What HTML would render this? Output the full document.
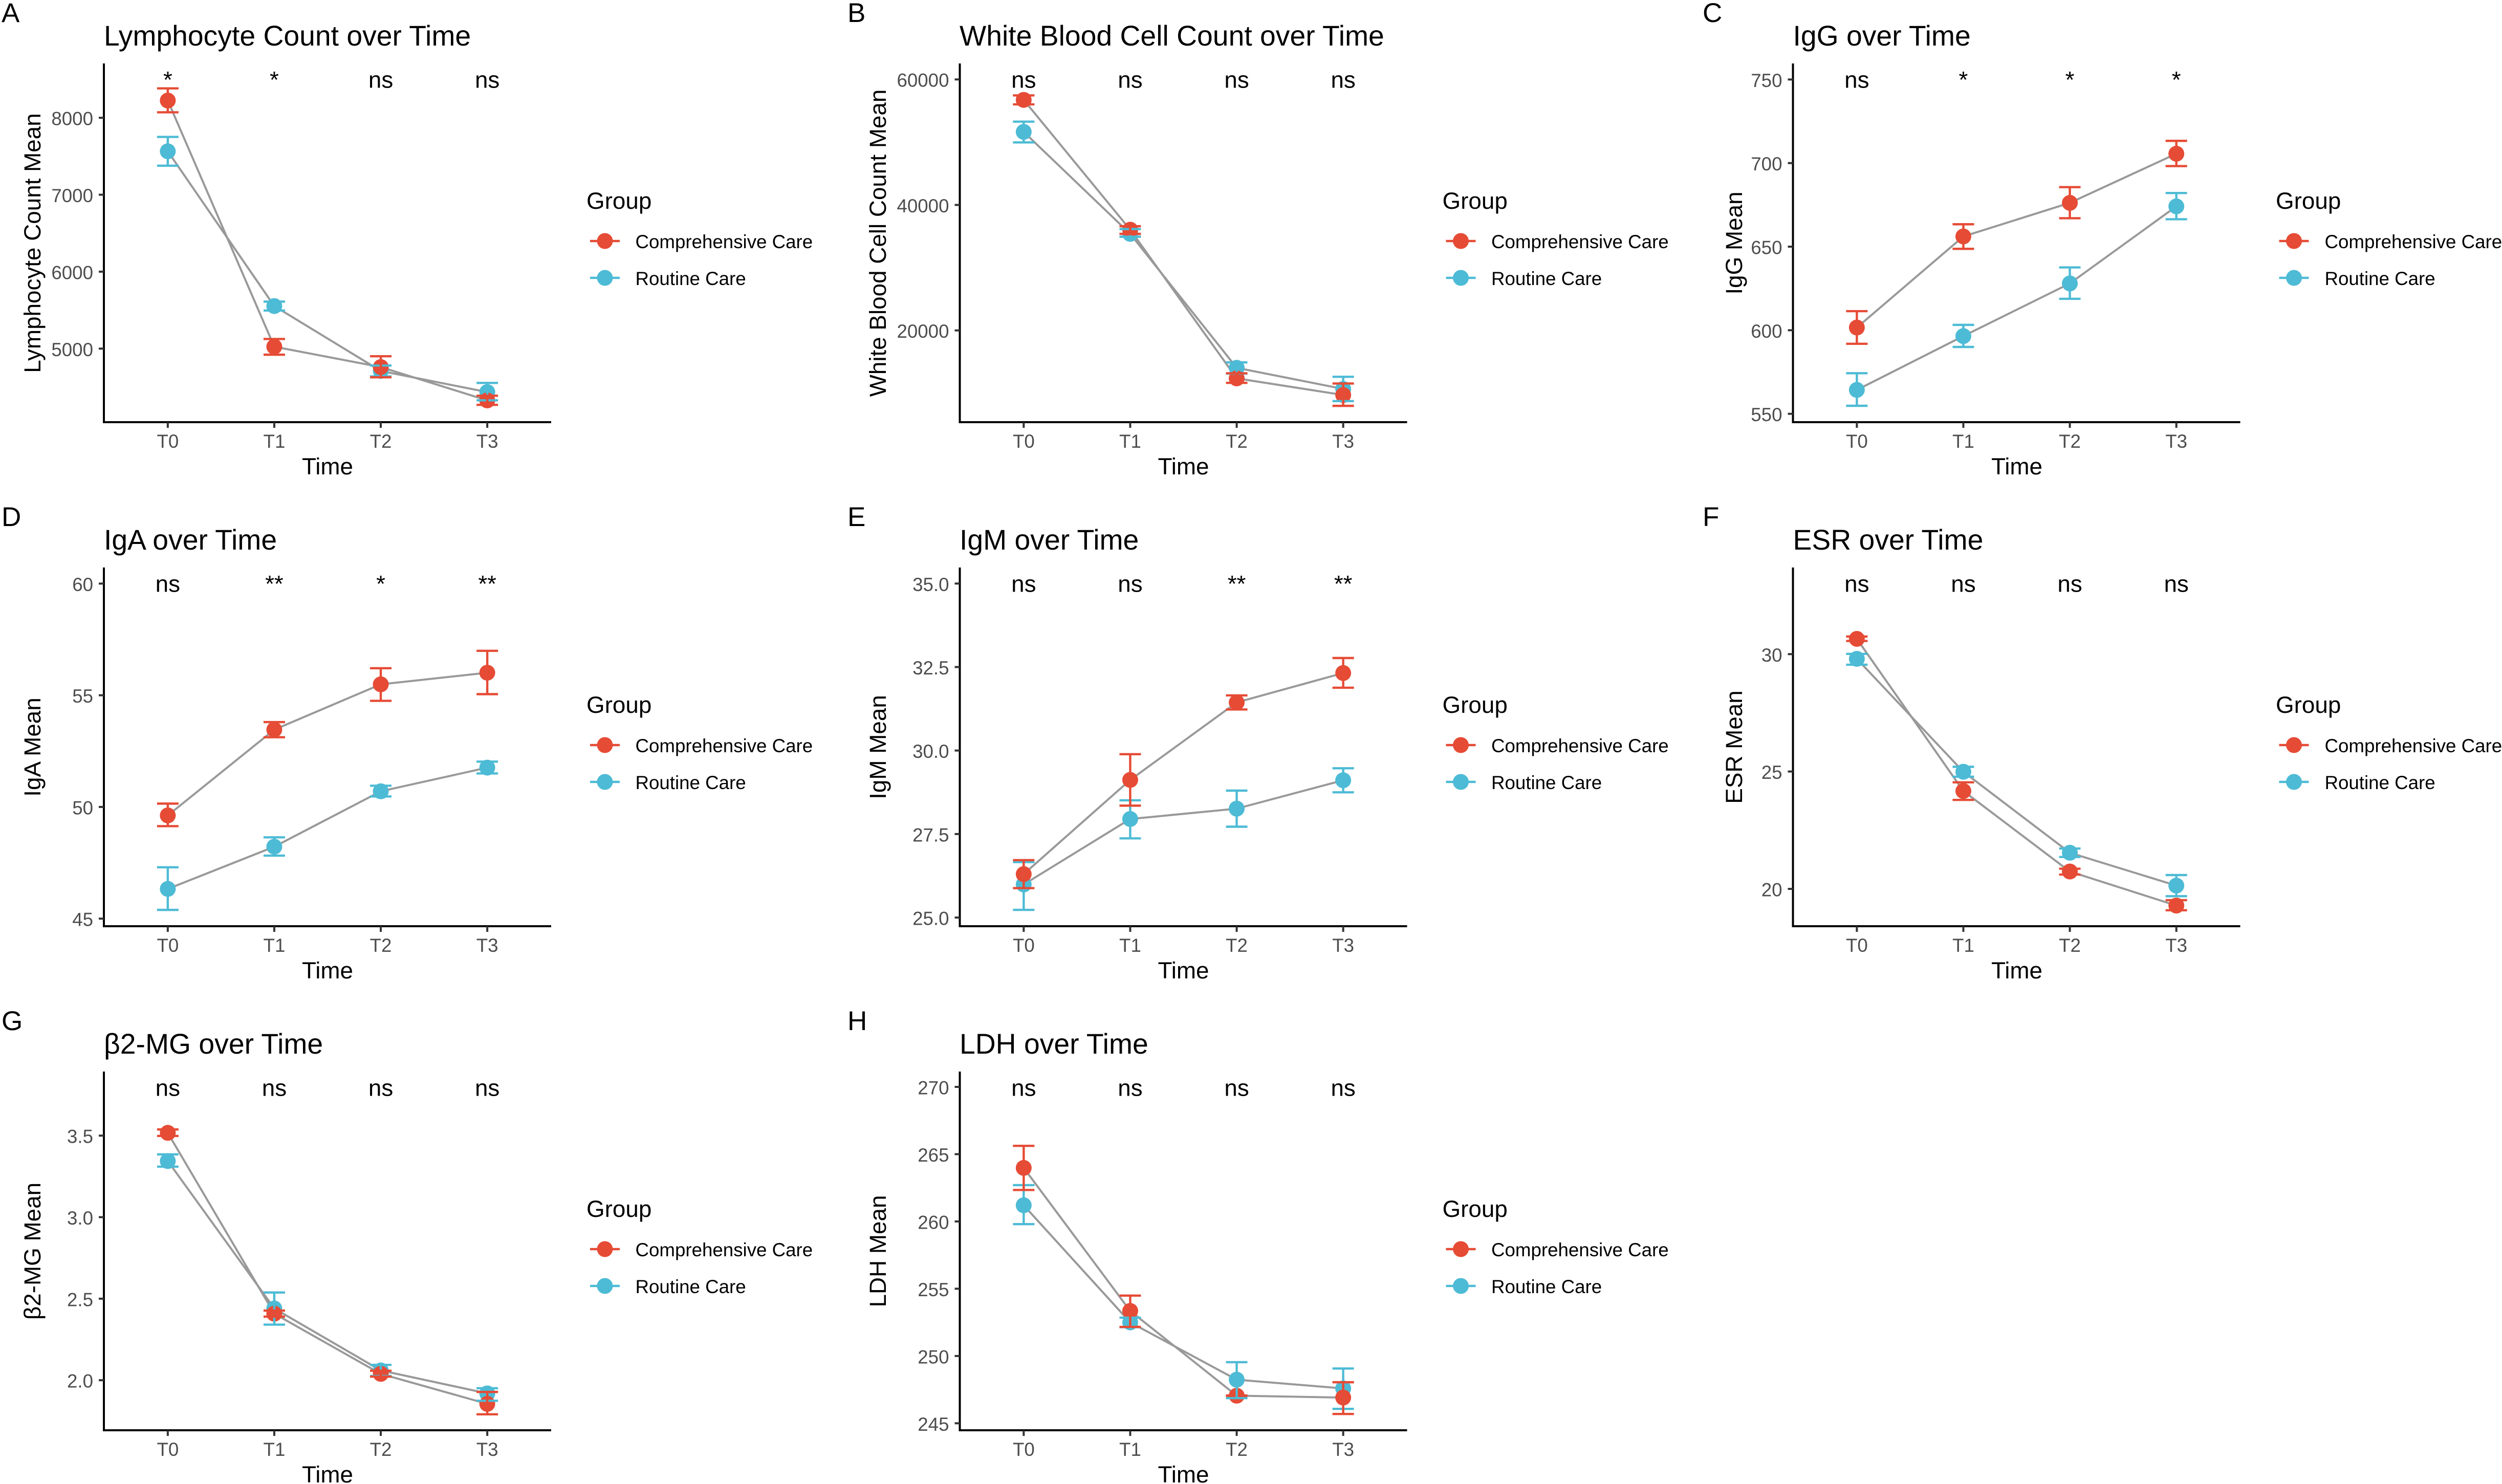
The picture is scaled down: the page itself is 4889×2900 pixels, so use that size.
<!DOCTYPE html>
<html lang="en">
<head>
<meta charset="utf-8">
<title>Laboratory markers over time</title>
<style>
html,body{margin:0;padding:0;background:#fff;}
svg{display:block;}
text{font-family:"Liberation Sans",Arial,sans-serif;fill:#000;}
.letter{font-size:53px;}
.title{font-size:55.3px;}
.axis-title{font-size:45.8px;text-anchor:middle;}
.legend-title{font-size:45.8px;}
.legend-label{font-size:36.7px;}
.tick-label{font-size:36.7px;fill:#4d4d4d;}
.sig-label{font-size:45.8px;text-anchor:middle;}
</style>
</head>
<body>
<svg id="figure" xmlns="http://www.w3.org/2000/svg" width="4889" height="2900" viewBox="0 0 4889 2900">
<rect width="4889" height="2900" fill="#ffffff"/>

<g id="panel-a">
<text class="letter" x="3" y="43">A</text>
<text class="title" x="203" y="89">Lymphocyte Count over Time</text>
<text class="axis-title" transform="translate(79,475) rotate(-90)">Lymphocyte Count Mean</text>
<text class="axis-title" x="640" y="927">Time</text>
<text class="legend-title" x="1146" y="408">Group</text>
<text class="legend-label" x="1241.5" y="485">Comprehensive Care</text>
<text class="legend-label" x="1241.5" y="557">Routine Care</text>
</g>

<g id="panel-b">
<text class="letter" x="1656" y="43">B</text>
<text class="title" x="1875" y="89">White Blood Cell Count over Time</text>
<text class="axis-title" transform="translate(1731,475) rotate(-90)">White Blood Cell Count Mean</text>
<text class="axis-title" x="2312.5" y="927">Time</text>
<text class="legend-title" x="2818.5" y="408">Group</text>
<text class="legend-label" x="2914" y="485">Comprehensive Care</text>
<text class="legend-label" x="2914" y="557">Routine Care</text>
</g>

<g id="panel-c">
<text class="letter" x="3327" y="43">C</text>
<text class="title" x="3503.5" y="89">IgG over Time</text>
<text class="axis-title" transform="translate(3404,475) rotate(-90)">IgG Mean</text>
<text class="axis-title" x="3941" y="927">Time</text>
<text class="legend-title" x="4447" y="408">Group</text>
<text class="legend-label" x="4542.5" y="485">Comprehensive Care</text>
<text class="legend-label" x="4542.5" y="557">Routine Care</text>
</g>

<g id="panel-d">
<text class="letter" x="3" y="1028">D</text>
<text class="title" x="203" y="1074">IgA over Time</text>
<text class="axis-title" transform="translate(79,1460) rotate(-90)">IgA Mean</text>
<text class="axis-title" x="640" y="1912">Time</text>
<text class="legend-title" x="1146" y="1393">Group</text>
<text class="legend-label" x="1241.5" y="1470">Comprehensive Care</text>
<text class="legend-label" x="1241.5" y="1542">Routine Care</text>
</g>

<g id="panel-e">
<text class="letter" x="1656" y="1028">E</text>
<text class="title" x="1875" y="1074">IgM over Time</text>
<text class="axis-title" transform="translate(1731,1460) rotate(-90)">IgM Mean</text>
<text class="axis-title" x="2312.5" y="1912">Time</text>
<text class="legend-title" x="2818.5" y="1393">Group</text>
<text class="legend-label" x="2914" y="1470">Comprehensive Care</text>
<text class="legend-label" x="2914" y="1542">Routine Care</text>
</g>

<g id="panel-f">
<text class="letter" x="3327" y="1028">F</text>
<text class="title" x="3503.5" y="1074">ESR over Time</text>
<text class="axis-title" transform="translate(3404,1460) rotate(-90)">ESR Mean</text>
<text class="axis-title" x="3941" y="1912">Time</text>
<text class="legend-title" x="4447" y="1393">Group</text>
<text class="legend-label" x="4542.5" y="1470">Comprehensive Care</text>
<text class="legend-label" x="4542.5" y="1542">Routine Care</text>
</g>

<g id="panel-g">
<text class="letter" x="3" y="2013">G</text>
<text class="title" x="203" y="2059">β2-MG over Time</text>
<text class="axis-title" transform="translate(79,2445) rotate(-90)">β2-MG Mean</text>
<text class="axis-title" x="640" y="2897">Time</text>
<text class="legend-title" x="1146" y="2378">Group</text>
<text class="legend-label" x="1241.5" y="2455">Comprehensive Care</text>
<text class="legend-label" x="1241.5" y="2527">Routine Care</text>
</g>

<g id="panel-h">
<text class="letter" x="1656" y="2013">H</text>
<text class="title" x="1875" y="2059">LDH over Time</text>
<text class="axis-title" transform="translate(1731,2445) rotate(-90)">LDH Mean</text>
<text class="axis-title" x="2312.5" y="2897">Time</text>
<text class="legend-title" x="2818.5" y="2378">Group</text>
<text class="legend-label" x="2914" y="2455">Comprehensive Care</text>
<text class="legend-label" x="2914" y="2527">Routine Care</text>
</g>
</svg>

<script>
const timeLabels = ['T0', 'T1', 'T2', 'T3'];

// A: Lymphocyte count
const lymphTicks = ['5000', '6000', '7000', '8000'];
const lymphSig = ['*', '*', 'ns', 'ns'];
const lymphCompMean = [8224, 5025, 4760, 4327];
const lymphCompLow = [8071, 4921, 4627, 4269];
const lymphCompHigh = [8382, 5125, 4901, 4388];
const lymphRoutMean = [7564, 5553, 4710, 4435];
const lymphRoutLow = [7377, 5495, 4639, 4328];
const lymphRoutHigh = [7751, 5611, 4780, 4554];

// B: White blood cell count
const wbcTicks = ['20000', '40000', '60000'];
const wbcSig = ['ns', 'ns', 'ns', 'ns'];
const wbcCompMean = [56739, 36051, 12357, 9707];
const wbcCompLow = [56025, 35389, 11643, 7975];
const wbcCompHigh = [57452, 36611, 13172, 11541];
const wbcRoutMean = [51643, 35389, 14038, 10675];
const wbcRoutLow = [49962, 34930, 13121, 8739];
const wbcRoutHigh = [53274, 36153, 14904, 12611];

// C: IgG
const iggTicks = ['550', '600', '650', '700', '750'];
const iggSig = ['ns', '*', '*', '*'];
const iggCompMean = [601.6, 656.1, 676.2, 705.6];
const iggCompLow = [591.9, 648.7, 667, 698.2];
const iggCompHigh = [611.4, 663.4, 685.6, 713.3];
const iggRoutMean = [564.3, 596.5, 628, 674.1];
const iggRoutLow = [554.8, 590, 618.8, 666.4];
const iggRoutHigh = [574.3, 603.2, 637.6, 682.1];

// D: IgA
const igaTicks = ['45', '50', '55', '60'];
const igaSig = ['ns', '**', '*', '**'];
const igaCompMean = [49.62, 53.46, 55.49, 56.01];
const igaCompLow = [49.14, 53.12, 54.75, 55.05];
const igaCompHigh = [50.15, 53.8, 56.21, 56.99];
const igaRoutMean = [46.33, 48.22, 50.7, 51.76];
const igaRoutLow = [45.39, 47.82, 50.47, 51.5];
const igaRoutHigh = [47.3, 48.64, 50.95, 52.03];

// E: IgM
const igmTicks = ['25.0', '27.5', '30.0', '32.5', '35.0'];
const igmSig = ['ns', 'ns', '**', '**'];
const igmCompMean = [26.3, 29.12, 31.44, 32.32];
const igmCompLow = [25.88, 28.35, 31.23, 31.88];
const igmCompHigh = [26.72, 29.89, 31.65, 32.77];
const igmRoutMean = [25.99, 27.95, 28.26, 29.11];
const igmRoutLow = [25.23, 27.37, 27.72, 28.75];
const igmRoutHigh = [26.66, 28.51, 28.8, 29.47];

// F: ESR
const esrTicks = ['20', '25', '30'];
const esrSig = ['ns', 'ns', 'ns', 'ns'];
const esrCompMean = [30.65, 24.17, 20.74, 19.29];
const esrCompLow = [30.56, 23.79, 20.61, 19.09];
const esrCompHigh = [30.75, 24.54, 20.86, 19.52];
const esrRoutMean = [29.8, 24.99, 21.54, 20.14];
const esrRoutLow = [29.55, 24.78, 21.36, 19.69];
const esrRoutHigh = [30.01, 25.2, 21.72, 20.59];

// G: beta2-MG
const b2mgTicks = ['2.0', '2.5', '3.0', '3.5'];
const b2mgSig = ['ns', 'ns', 'ns', 'ns'];
const b2mgCompMean = [3.517, 2.408, 2.039, 1.855];
const b2mgCompLow = [3.498, 2.39, 2.022, 1.791];
const b2mgCompHigh = [3.538, 2.427, 2.058, 1.928];
const b2mgRoutMean = [3.344, 2.44, 2.06, 1.919];
const b2mgRoutLow = [3.31, 2.341, 2.026, 1.874];
const b2mgRoutHigh = [3.385, 2.538, 2.094, 1.951];

// H: LDH
const ldhTicks = ['245', '250', '255', '260', '265', '270'];
const ldhSig = ['ns', 'ns', 'ns', 'ns'];
const ldhCompMean = [263.98, 253.35, 247.05, 246.91];
const ldhCompLow = [262.34, 252.16, 246.9, 245.69];
const ldhCompHigh = [265.62, 254.49, 247.07, 248.05];
const ldhRoutMean = [261.2, 252.5, 248.24, 247.59];
const ldhRoutLow = [259.8, 252.14, 246.87, 246.07];
const ldhRoutHigh = [262.7, 252.85, 249.54, 249.07];

const RED = '#E64B35';
const BLUE = '#4DBBD5';
const GREY = '#999999';
const NS = 'http://www.w3.org/2000/svg';
const columns = [0, 1672.5, 3300.5];
const rows = [0, 985, 1970];

const panels = [
  {id: 'a', col: 0, row: 0, yMin: 4044, yMax: 8706, ticks: lymphTicks, sig: lymphSig,
   comp: [lymphCompMean, lymphCompLow, lymphCompHigh], rout: [lymphRoutMean, lymphRoutLow, lymphRoutHigh], routineOnTop: []},
  {id: 'b', col: 1, row: 0, yMin: 5376, yMax: 62548, ticks: wbcTicks, sig: wbcSig,
   comp: [wbcCompMean, wbcCompLow, wbcCompHigh], rout: [wbcRoutMean, wbcRoutLow, wbcRoutHigh], routineOnTop: []},
  {id: 'c', col: 2, row: 0, yMin: 545, yMax: 759.6, ticks: iggTicks, sig: iggSig,
   comp: [iggCompMean, iggCompLow, iggCompHigh], rout: [iggRoutMean, iggRoutLow, iggRoutHigh], routineOnTop: []},
  {id: 'd', col: 0, row: 1, yMin: 44.66, yMax: 60.72, ticks: igaTicks, sig: igaSig,
   comp: [igaCompMean, igaCompLow, igaCompHigh], rout: [igaRoutMean, igaRoutLow, igaRoutHigh], routineOnTop: []},
  {id: 'e', col: 1, row: 1, yMin: 24.74, yMax: 35.48, ticks: igmTicks, sig: igmSig,
   comp: [igmCompMean, igmCompLow, igmCompHigh], rout: [igmRoutMean, igmRoutLow, igmRoutHigh], routineOnTop: []},
  {id: 'f', col: 2, row: 1, yMin: 18.41, yMax: 33.69, ticks: esrTicks, sig: esrSig,
   comp: [esrCompMean, esrCompLow, esrCompHigh], rout: [esrRoutMean, esrRoutLow, esrRoutHigh], routineOnTop: []},
  {id: 'g', col: 0, row: 2, yMin: 1.693, yMax: 3.893, ticks: b2mgTicks, sig: b2mgSig,
   comp: [b2mgCompMean, b2mgCompLow, b2mgCompHigh], rout: [b2mgRoutMean, b2mgRoutLow, b2mgRoutHigh], routineOnTop: []},
  {id: 'h', col: 1, row: 2, yMin: 244.48, yMax: 271.14, ticks: ldhTicks, sig: ldhSig,
   comp: [ldhCompMean, ldhCompLow, ldhCompHigh], rout: [ldhRoutMean, ldhRoutLow, ldhRoutHigh], routineOnTop: [2]}
];

function make(tag, parent, geometry) {
  const node = document.createElementNS(NS, tag);
  for (const key in geometry) node.setAttribute(key, geometry[key]);
  parent.appendChild(node);
  return node;
}

function drawPanel(p) {
  const host = document.getElementById('panel-' + p.id);
  const left = 203 + columns[p.col];
  const right = 1077 + columns[p.col];
  const top = 124 + rows[p.row];
  const bottom = 825 + rows[p.row];
  const band = (right - left) / 4.2;
  const xScale = function (i) { return left + (0.6 + i) * band; };
  const yScale = function (v) { return bottom - (v - p.yMin) / (p.yMax - p.yMin) * (bottom - top); };

  // connecting lines
  const seriesList = [
    {key: 'routine', values: p.rout, color: BLUE},
    {key: 'comprehensive', values: p.comp, color: RED}
  ];
  seriesList.forEach(function (s) {
    const pts = s.values[0].map(function (v, i) { return xScale(i) + ',' + yScale(v); }).join(' ');
    const line = make('polyline', host, {points: pts, fill: 'none', stroke: GREY, 'stroke-width': 4, 'stroke-linejoin': 'round'});
    
    
  });

  function orderAt(i) {
    return p.routineOnTop.indexOf(i) >= 0 ? [seriesList[1], seriesList[0]] : seriesList;
  }

  // points layer
  timeLabels.forEach(function (label, i) {
    orderAt(i).forEach(function (s) {
      const dot = make('circle', host, {cx: xScale(i), cy: yScale(s.values[0][i]), r: 15.5, fill: s.color});
      
      
    });
  });

  // error bars layer
  timeLabels.forEach(function (label, i) {
    orderAt(i).forEach(function (s) {
      const x = xScale(i);
      const yLow = yScale(s.values[1][i]);
      const yHigh = yScale(s.values[2][i]);
      const d = 'M' + (x - 21) + ' ' + yHigh + 'H' + (x + 21) + 'M' + x + ' ' + yHigh + 'V' + yLow + 'M' + (x - 21) + ' ' + yLow + 'H' + (x + 21);
      const bar = make('path', host, {d: d, fill: 'none', stroke: s.color, 'stroke-width': 4.4});
      
      
    });
  });

  // axes
  const axes = make('path', host, {d: 'M' + left + ' ' + top + 'V' + bottom + 'H' + right, fill: 'none', stroke: '#000000', 'stroke-width': 4, 'stroke-linejoin': 'miter'});
  
  

  p.ticks.forEach(function (label) {
    const y = yScale(Number(label));
    const tick = make('line', host, {x1: left - 10, x2: left, y1: y, y2: y, stroke: '#333333', 'stroke-width': 4});
    
    
    const text = make('text', host, {x: left - 21, y: y + 14.5, 'text-anchor': 'end', 'class': 'tick-label'});
    
    
    text.textContent = label;
  });

  timeLabels.forEach(function (label, i) {
    const x = xScale(i);
    const tick = make('line', host, {x1: x, x2: x, y1: bottom, y2: bottom + 11, stroke: '#333333', 'stroke-width': 4});
    
    
    const text = make('text', host, {x: x, y: bottom + 50, 'text-anchor': 'middle', 'class': 'tick-label'});
    
    
    text.textContent = label;

    const sig = make('text', host, {x: x, y: top + 47.5, 'class': 'sig-label'});
    
    
    sig.textContent = p.sig[i];
  });

  // legend swatches
  const lx = 1182 + columns[p.col];
  [[471, RED, 'comprehensive'], [543, BLUE, 'routine']].forEach(function (entry) {
    const ly = entry[0] + rows[p.row];
    const swatchLine = make('line', host, {x1: lx - 29, x2: lx + 29, y1: ly, y2: ly, stroke: entry[1], 'stroke-width': 4.4});
    
    
    const swatchDot = make('circle', host, {cx: lx, cy: ly, r: 15.5, fill: entry[1]});
    
    
  });
}

panels.forEach(drawPanel);
</script>
</body>
</html>
